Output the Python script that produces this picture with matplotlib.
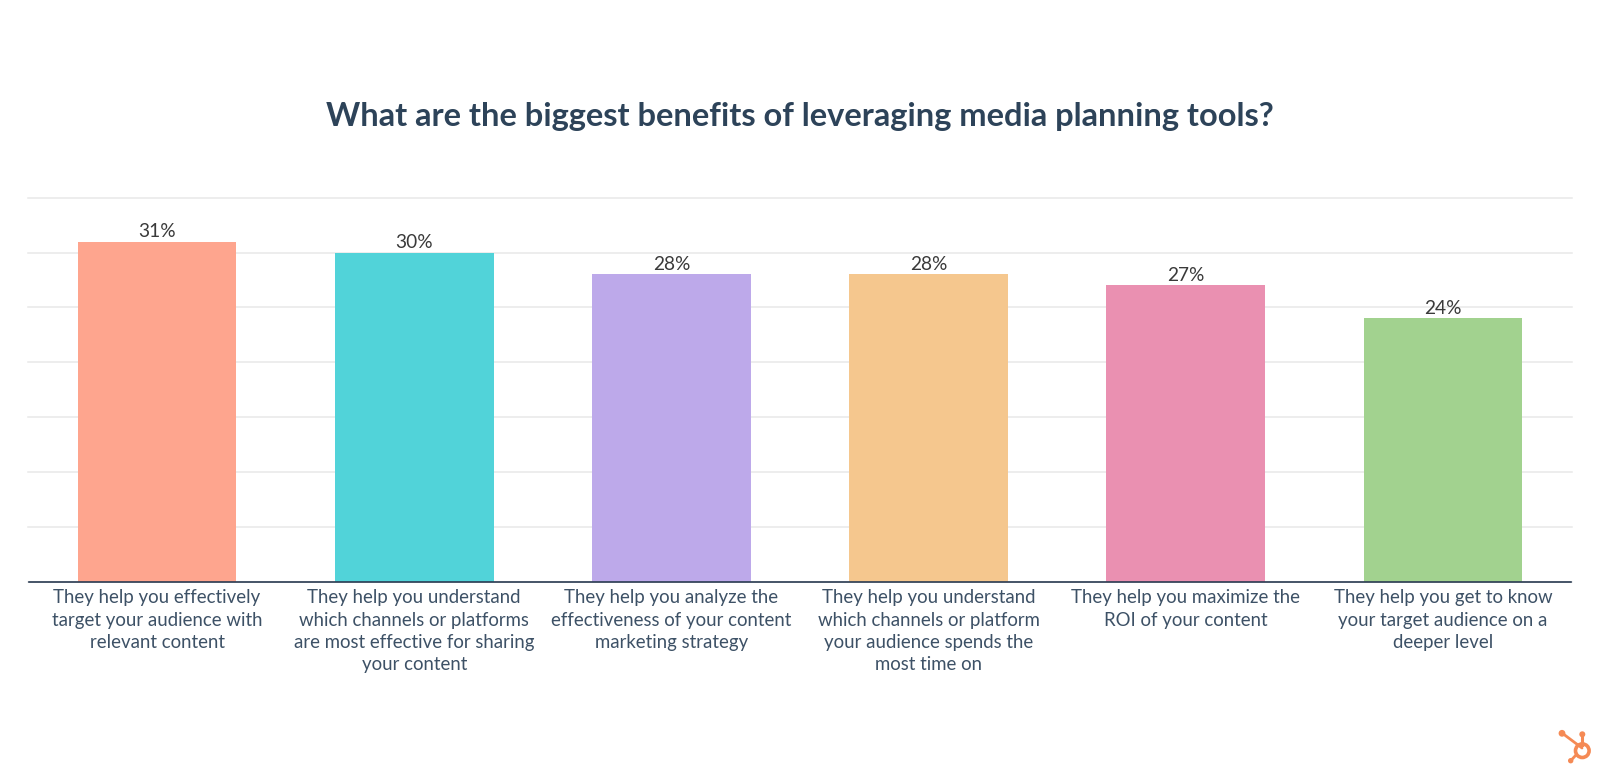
import matplotlib
matplotlib.use("Agg")
import matplotlib.pyplot as plt
from matplotlib.patches import Circle

title = "What are the biggest benefits of leveraging media planning tools?"
categories = [
    "They help you effectively\ntarget your audience with\nrelevant content",
    "They help you understand\nwhich channels or platforms\nare most effective for sharing\nyour content",
    "They help you analyze the\neffectiveness of your content\nmarketing strategy",
    "They help you understand\nwhich channels or platform\nyour audience spends the\nmost time on",
    "They help you maximize the\nROI of your content",
    "They help you get to know\nyour target audience on a\ndeeper level",
]
values = [31, 30, 28, 28, 27, 24]
colors = ["#FEA58E", "#51D3D9", "#BDA9EA", "#F5C78E", "#EA90B1", "#A2D28F"]
yticks = [0, 5, 10, 15, 20, 25, 30, 35]

W, H = 1600, 782
plt.rcParams["font.family"] = ["Lato", "DejaVu Sans"]
fig = plt.figure(figsize=(W / 100, H / 100), dpi=100, facecolor="white")

L, R, T, B = 28.5, 1571.5, 197.7, 581.7
ax = fig.add_axes([L / W, 1 - B / H, (R - L) / W, (B - T) / H])
x = list(range(len(values)))
ax.bar(x, values, width=0.617, color=colors, linewidth=0, zorder=3)
ax.set_xlim(-0.5, len(values) - 0.5)
ax.set_ylim(0, 35)
ax.set_yticks(yticks)
ax.tick_params(axis="y", length=0, labelleft=False)
ax.tick_params(axis="x", length=0, pad=5.5)
ax.set_xticks(x)
ax.set_xticklabels(categories, fontsize=13.4, color="#3D5166", linespacing=1.38)
ax.grid(axis="y", color="#E8E8E8", linewidth=1.1, zorder=0, clip_on=False)
ax.set_axisbelow(True)
for s in ["top", "left", "right"]:
    ax.spines[s].set_visible(False)
ax.spines["bottom"].set_color("#2A3B52")
ax.spines["bottom"].set_linewidth(1.2)
ax.spines["bottom"].set_zorder(5)
for xi, v in zip(x, values):
    ax.annotate(f"{v}%", (xi, v), xytext=(0, 1.0), textcoords="offset points",
                ha="center", va="bottom", fontsize=13.8, color="#3A3A3A", zorder=4)

fig.text(800 / W, 1 - 116.5 / H, title, ha="center", va="center", fontsize=23.5,
         fontweight="bold", color="#2D4359")

# HubSpot-style logo, drawn in a pixel-coordinate overlay
lg = fig.add_axes([0, 0, 1, 1], facecolor="none")
lg.set_xlim(0, W)
lg.set_ylim(H, 0)
lg.axis("off")
c = "#F58A55"
lg.plot([1562, 1582], [733, 748], color=c, lw=2.0, solid_capstyle="round")
lg.plot([1582.3, 1582.3], [734, 745], color=c, lw=2.2)
lg.plot([1570.7, 1576], [760.7, 755], color=c, lw=2.0)
lg.add_patch(Circle((1562, 733.3), 3.4, color=c, lw=0))
lg.add_patch(Circle((1582.3, 734.3), 3.0, color=c, lw=0))
lg.add_patch(Circle((1570.7, 760.7), 2.7, color=c, lw=0))
lg.add_patch(Circle((1582.3, 750.7), 6.8, facecolor="white", edgecolor=c, lw=2.6))

fig.savefig("out.png", dpi=100, facecolor="white")
